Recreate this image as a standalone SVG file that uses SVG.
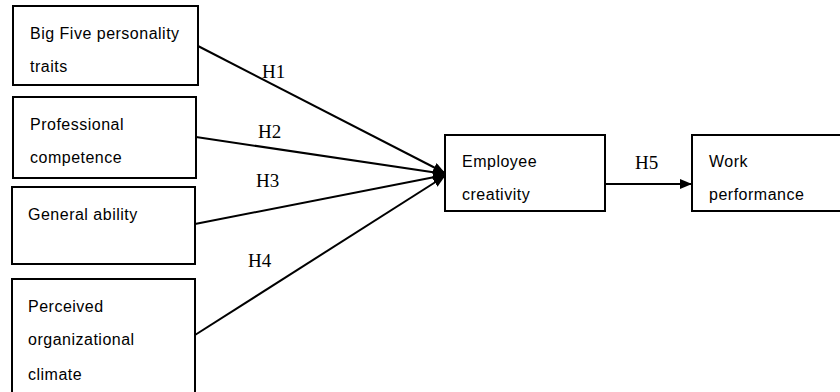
<svg xmlns="http://www.w3.org/2000/svg" width="840" height="392" viewBox="0 0 840 392">
<style>
.box{fill:#fff;stroke:#000;stroke-width:2}
.t{font-family:"Liberation Sans",Arial,sans-serif;font-size:16px;letter-spacing:0.5px;fill:#000}
.h{font-family:"Liberation Serif","Times New Roman",serif;font-size:19px;fill:#000}
.c{stroke:#000;stroke-width:2;fill:none}
</style>
<defs>
<marker id="ah" markerWidth="12" markerHeight="10" refX="12" refY="5" orient="auto" markerUnits="userSpaceOnUse">
<path d="M0,0 L12,5 L0,10 Z" fill="#000"/>
</marker>
</defs>
<rect width="840" height="392" fill="#fff"/>
<g id="n1"><rect class="box" x="13" y="6" width="185" height="79"/><text class="t" x="30" y="39">Big Five personality</text><text class="t" x="30" y="72">traits</text></g>
<g id="n2"><rect class="box" x="13" y="97" width="183" height="81"/><text class="t" x="30" y="130">Professional</text><text class="t" x="30" y="163">competence</text></g>
<g id="n3"><rect class="box" x="12" y="187" width="183" height="77"/><text class="t" x="28" y="220">General ability</text></g>
<g id="n4"><rect class="box" x="12" y="279" width="183" height="120"/><text class="t" x="28" y="312">Perceived</text><text class="t" x="28" y="345">organizational</text><text class="t" x="28" y="380">climate</text></g>
<g id="n5"><rect class="box" x="445" y="135" width="160" height="76"/><text class="t" x="462" y="167">Employee</text><text class="t" x="462" y="200">creativity</text></g>
<g id="n6"><rect class="box" x="692" y="135" width="150" height="76"/><text class="t" x="709" y="167">Work</text><text class="t" x="709" y="200">performance</text></g>
<g id="connectors">
<line class="c" x1="198" y1="46" x2="445" y2="173" marker-end="url(#ah)"/>
<line class="c" x1="196" y1="137" x2="445" y2="174" marker-end="url(#ah)"/>
<line class="c" x1="195" y1="224" x2="445" y2="175" marker-end="url(#ah)"/>
<line class="c" x1="195" y1="335" x2="445" y2="176" marker-end="url(#ah)"/>
<line class="c" x1="605" y1="184" x2="692" y2="184" marker-end="url(#ah)"/>
<text class="h" x="262" y="78">H1</text>
<text class="h" x="258" y="138">H2</text>
<text class="h" x="256" y="187">H3</text>
<text class="h" x="248" y="267">H4</text>
<text class="h" x="635" y="169">H5</text>
</g>
</svg>
